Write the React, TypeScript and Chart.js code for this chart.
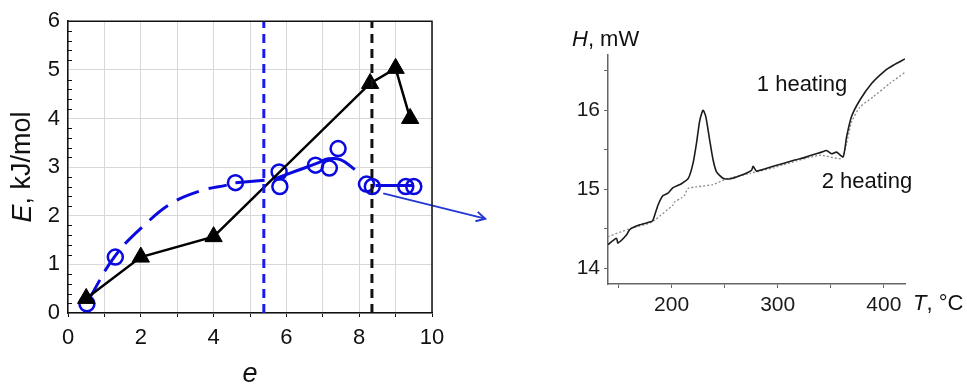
import { useEffect, useRef } from 'react';
import { Chart, registerables } from 'chart.js';

Chart.register(...registerables);

const FONT = '"Liberation Sans", Arial, Helvetica, sans-serif';

// ---- Left panel: E (kJ/mol) versus e ----
const triE = [0.5, 2, 4, 8.3, 9, 9.4];
const triVal = [0.3, 1.15, 1.57, 4.72, 5.03, 4.0];

const circE = [0.52, 1.3, 4.6, 5.8, 5.82, 6.8, 7.18, 7.42, 8.2, 8.36, 9.28, 9.5];
const circVal = [0.19, 1.15, 2.68, 2.9, 2.6, 3.04, 2.98, 3.38, 2.65, 2.6, 2.6, 2.6];

// hand-drawn guide curves through the circles
const guideDashE = [0.55, 1.3, 2.16, 2.85, 3.63, 4.36];
const guideDashVal = [0.25, 1.18, 1.85, 2.26, 2.51, 2.63];
const guideAE = [4.6, 5.4];
const guideAVal = [2.68, 2.73];
const guideBE = [5.65, 6.3, 6.85, 7.15, 7.5, 7.88];
const guideBVal = [2.75, 2.93, 3.08, 3.17, 3.15, 2.95];
const guideCE = [8.45, 9.45];
const guideCVal = [2.62, 2.62];

const arrowE = [8.66, 11.46];
const arrowVal = [2.46, 1.94];

const vLineBlue = 5.38;
const vLineBlack = 8.35;

const eTicksMin = 0;
const eTicksMax = 10;
const energyMin = 0;
const energyMax = 6;

// ---- Right panel: DSC heat flow H (mW) versus T (°C) ----
const heat1T = [140, 148, 149.4, 157.4, 160.5, 170, 181, 182.5, 187.2, 191.9, 196.6, 201.3, 209.2, 215.8,
  220.2, 223.4, 226.5, 229.6, 232.2, 235.9, 239.1, 242.3, 248.5, 254.8, 264.2, 275.3, 276.8, 280,
  295.7, 316.1, 327.2, 341.3, 346, 350.8, 355.5, 361.7, 364.9, 369.6, 377.5, 388.5, 401, 408.9, 420];
const heat1H = [14.30, 14.38, 14.32, 14.42, 14.49, 14.55, 14.59, 14.61, 14.80, 14.92, 14.95, 15.02, 15.07, 15.14,
  15.33, 15.58, 15.87, 16.0, 15.92, 15.62, 15.37, 15.22, 15.14, 15.13, 15.17, 15.24, 15.29, 15.23,
  15.29, 15.37, 15.41, 15.47, 15.49, 15.45, 15.47, 15.41, 15.66, 15.92, 16.13, 16.34, 16.5, 16.57, 16.65];

const heat2T = [140, 160.5, 179.3, 184.1, 201.3, 202.9, 209.2, 212, 215.5, 223.4, 239.1, 251.7, 273.7, 295.7,
  305.1, 339.7, 360.2, 364.9, 369.6, 377.5, 390, 405.7, 420];
const heat2H = [14.40, 14.50, 14.57, 14.61, 14.80, 14.84, 14.89, 14.92, 15.01, 15.03, 15.06, 15.13, 15.20, 15.27,
  15.31, 15.43, 15.39, 15.58, 15.85, 16.04, 16.17, 16.34, 16.48];

const label1 = { text: '1 heating', T: 280.3, H: 16.32 };
const label2 = { text: '2 heating', T: 341.4, H: 15.09 };

const tMin = 140;
const tMax = 420;
const hMin = 13.8;
const hMax = 16.7;

const pts = (xs: number[], ys: number[]) => xs.map((x, i) => ({ x, y: ys[i] }));

const BLUE = '#0a0ae0';

function drawMixed(ctx: CanvasRenderingContext2D, parts: { t: string; italic: boolean }[], size: number, x: number, y: number, align: 'center' | 'left') {
  const fonts = parts.map(p => `${p.italic ? 'italic ' : ''}${size}px ${FONT}`);
  let total = 0;
  const widths = parts.map((p, i) => { ctx.font = fonts[i]; const w = ctx.measureText(p.t).width; total += w; return w; });
  let cx = align === 'center' ? x - total / 2 : x;
  ctx.textBaseline = 'middle';
  ctx.textAlign = 'left';
  parts.forEach((p, i) => { ctx.font = fonts[i]; ctx.fillText(p.t, cx, y); cx += widths[i]; });
}

const leftDecor = {
  id: 'leftDecor',
  afterDatasetsDraw(chart: any) {
    const { ctx } = chart;
    const xs = chart.scales.x, ys = chart.scales.y;
    const x0 = xs.getPixelForValue(arrowE[0]), y0 = ys.getPixelForValue(arrowVal[0]);
    const x1 = xs.getPixelForValue(arrowE[1]), y1 = ys.getPixelForValue(arrowVal[1]);
    const ang = Math.atan2(y1 - y0, x1 - x0);
    const len = 10, spread = 0.5;
    ctx.save();
    ctx.strokeStyle = '#2438d4';
    ctx.lineWidth = 2;
    ctx.beginPath();
    ctx.moveTo(x1 - len * Math.cos(ang - spread), y1 - len * Math.sin(ang - spread));
    ctx.lineTo(x1, y1);
    ctx.lineTo(x1 - len * Math.cos(ang + spread), y1 - len * Math.sin(ang + spread));
    ctx.stroke();
    ctx.restore();
  },
  afterDraw(chart: any) {
    const { ctx, chartArea: a } = chart;
    const ys = chart.scales.y;
    ctx.save();
    ctx.strokeStyle = '#111';
    ctx.lineWidth = 1.5;
    ctx.beginPath();
    ctx.moveTo(a.left, a.top);
    ctx.lineTo(a.right, a.top);
    ctx.lineTo(a.right, a.bottom);
    ctx.stroke();
    // minor ticks on the energy axis
    ctx.lineWidth = 1;
    for (let i = 1; i < 30; i++) {
      if (i % 5 === 0) continue;
      const py = Math.round(ys.getPixelForValue(i * 0.2)) + 0.5;
      ctx.beginPath();
      ctx.moveTo(a.left, py);
      ctx.lineTo(a.left + 4, py);
      ctx.stroke();
    }
    ctx.fillStyle = '#111';
    ctx.save();
    ctx.translate(23, (a.top + a.bottom) / 2);
    ctx.rotate(-Math.PI / 2);
    drawMixed(ctx, [{ t: 'E', italic: true }, { t: ', kJ/mol', italic: false }], 27, 0, 0, 'center');
    ctx.restore();
    drawMixed(ctx, [{ t: 'e', italic: true }], 27, (a.left + a.right) / 2, 374, 'center');
    ctx.restore();
  },
};

const rightDecor = {
  id: 'rightDecor',
  afterDraw(chart: any) {
    const { ctx } = chart;
    const xs = chart.scales.x, ys = chart.scales.y;
    ctx.save();
    ctx.fillStyle = '#111';
    drawMixed(ctx, [{ t: 'H', italic: true }, { t: ', mW', italic: false }], 22, 52, 40, 'left');
    drawMixed(ctx, [{ t: 'T', italic: true }, { t: ', °C', italic: false }], 22, 393, 304, 'left');
    for (const l of [label1, label2]) {
      drawMixed(ctx, [{ t: l.text, italic: false }], 22, xs.getPixelForValue(l.T), ys.getPixelForValue(l.H), 'left');
    }
    ctx.restore();
  },
};

function lineSet(data: any[], color: string, width: number, order: number, extra: any = {}) {
  return { data, showLine: true, borderColor: color, borderWidth: width, pointRadius: 0, pointHoverRadius: 0, fill: false, order, ...extra };
}

export default function App() {
  const leftRef = useRef<HTMLCanvasElement>(null);
  const rightRef = useRef<HTMLCanvasElement>(null);

  useEffect(() => {
    const left = new Chart(leftRef.current!, {
      type: 'scatter',
      data: {
        datasets: [
          lineSet(pts([vLineBlack, vLineBlack], [energyMin, energyMax]), '#111', 3, 0, { borderDash: [9, 6] }),
          lineSet(pts([vLineBlue, vLineBlue], [energyMin, energyMax]), '#1a1aef', 3, 1, { borderDash: [9, 6] }),
          {
            data: pts(triE, triVal), showLine: true, borderColor: '#000', borderWidth: 2.5,
            pointStyle: 'triangle', pointRadius: 10, pointHoverRadius: 10,
            pointBackgroundColor: '#000', pointBorderColor: '#000', pointBorderWidth: 1, order: 2,
          },
          {
            data: pts(circE, circVal), showLine: false, pointStyle: 'circle', pointRadius: 7.5, pointHoverRadius: 7.5,
            pointBorderColor: BLUE, pointBackgroundColor: 'rgba(0,0,0,0)', pointBorderWidth: 2.5, order: 3,
          },
          lineSet(pts(guideDashE, guideDashVal), BLUE, 3, 4, { borderDash: [24, 10], tension: 0.4 }),
          lineSet(pts(guideAE, guideAVal), BLUE, 3, 4),
          lineSet(pts(guideBE, guideBVal), BLUE, 3, 4, { tension: 0.4 }),
          lineSet(pts(guideCE, guideCVal), BLUE, 3, 4),
          lineSet(pts(arrowE, arrowVal), '#2438d4', 2, 5, { clip: false }),
        ],
      },
      options: {
        responsive: false,
        animation: false,
        events: [],
        layout: { padding: { top: 17, right: 88, left: 0, bottom: 0 } },
        plugins: { legend: { display: false }, tooltip: { enabled: false } },
        scales: {
          x: {
            type: 'linear', min: eTicksMin, max: eTicksMax,
            ticks: {
              stepSize: 1, autoSkip: false, maxRotation: 0, padding: 8, color: '#111',
              font: { family: FONT, size: 22 },
              callback: (v: any) => (Number(v) % 2 === 0 ? String(v) : ''),
            },
            grid: { color: '#d8d8d8', lineWidth: 1, tickLength: 4, tickColor: '#111', drawTicks: true },
            border: { color: '#111', width: 1.5 },
            afterFit: (s: any) => { s.height = 79; },
          },
          y: {
            type: 'linear', min: energyMin, max: energyMax,
            ticks: { stepSize: 1, padding: 8, color: '#111', font: { family: FONT, size: 22 } },
            grid: { color: '#d8d8d8', lineWidth: 1, drawTicks: false },
            border: { color: '#111', width: 1.5 },
            afterFit: (s: any) => { s.width = 68; },
          },
        },
      },
      plugins: [leftDecor],
    } as any);

    const right = new Chart(rightRef.current!, {
      type: 'scatter',
      data: {
        datasets: [
          lineSet(pts(heat1T, heat1H), '#1c1c1c', 1.6, 0, { tension: 0.2 }),
          lineSet(pts(heat2T, heat2H), '#8c8c8c', 1.3, 1, { borderDash: [2, 2], tension: 0.2 }),
        ],
      },
      options: {
        responsive: false,
        animation: false,
        events: [],
        layout: { padding: { top: 55, right: 62, left: 0, bottom: 0 } },
        plugins: { legend: { display: false }, tooltip: { enabled: false } },
        scales: {
          x: {
            type: 'linear', min: tMin, max: tMax,
            ticks: {
              stepSize: 50, includeBounds: false, autoSkip: false, maxRotation: 0, padding: 5, color: '#1a1a1a',
              font: { family: FONT, size: 21 },
              callback: (v: any) => (Number(v) % 100 === 0 ? String(v) : ''),
            },
            grid: { drawOnChartArea: false, tickLength: 4, tickColor: '#666', lineWidth: 1 },
            border: { color: '#666', width: 1.5 },
            afterFit: (s: any) => { s.height = 108; },
          },
          y: {
            type: 'linear', min: hMin, max: hMax,
            ticks: {
              stepSize: 0.5, includeBounds: false, autoSkip: false, padding: 4, color: '#1a1a1a',
              font: { family: FONT, size: 21 },
              callback: (v: any) => (Number.isInteger(Number(v)) ? String(v) : ''),
            },
            grid: { drawOnChartArea: false, tickLength: 4, tickColor: '#666', lineWidth: 1 },
            border: { color: '#666', width: 1.5 },
            afterFit: (s: any) => { s.width = 88; },
          },
        },
      },
      plugins: [rightDecor],
    } as any);

    return () => { left.destroy(); right.destroy(); };
  }, []);

  return (
    <div style={{ position: 'absolute', left: 0, top: 0, width: 967, height: 392, background: '#fff' }}>
      <canvas ref={leftRef} width={520} height={392} style={{ position: 'absolute', left: 0, top: 0 }} />
      <canvas ref={rightRef} width={447} height={392} style={{ position: 'absolute', left: 520, top: 0 }} />
    </div>
  );
}
